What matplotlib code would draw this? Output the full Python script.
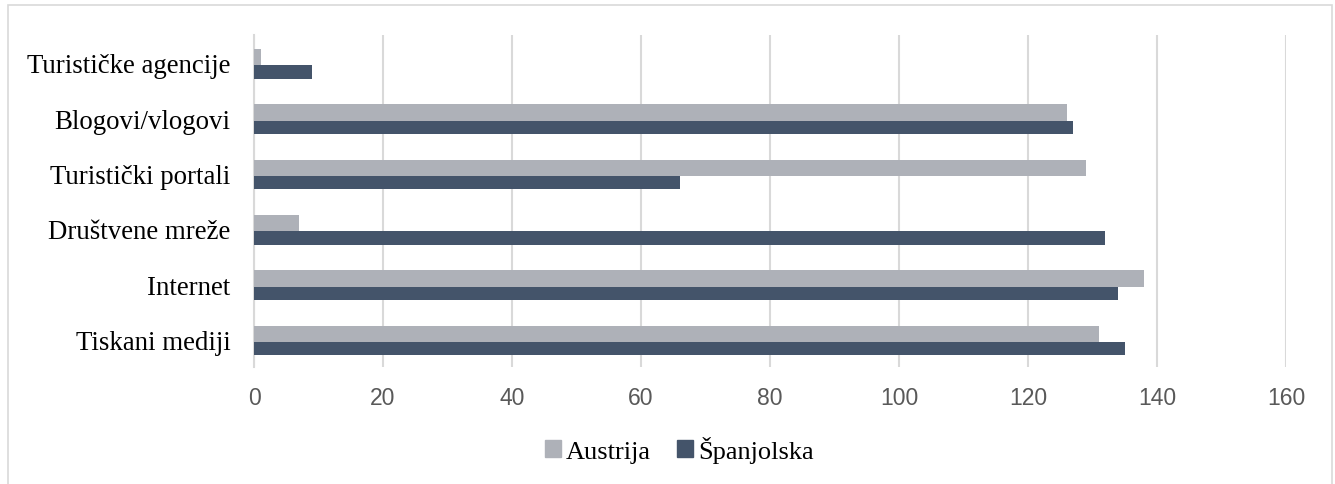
import matplotlib
matplotlib.use('Agg')
import matplotlib.pyplot as plt
from matplotlib.patches import Rectangle, Patch
import numpy as np

# categories from top to bottom as they appear in the chart
categories = ['Turističke agencije', 'Blogovi/vlogovi', 'Turistički portali',
              'Društvene mreže', 'Internet', 'Tiskani mediji']
austrija = [1, 126, 129, 7, 138, 131]
spanjolska = [9, 127, 66, 132, 134, 135]

col_austrija = '#AEB1B8'
col_spanjolska = '#44546A'

fig = plt.figure(figsize=(13.35, 4.85), dpi=100)
ax = fig.add_axes([0.1903, 0.2412, 0.773, 0.6845])

# outer chart frame
fig.patches.append(Rectangle((8 / 1335, -0.05), 1324 / 1335, 1.05 - 6 / 485,
                             transform=fig.transFigure, fill=False,
                             edgecolor='#D9D9D9', linewidth=1.2))

y = np.arange(len(categories))[::-1]
ax.barh(y + 0.10, austrija, height=0.30, color=col_austrija, zorder=3)
ax.barh(y - 0.17, spanjolska, height=0.24, color=col_spanjolska, zorder=3)

ax.set_xlim(0, 160)
ax.set_ylim(-0.5, len(categories) - 0.5)
ax.set_xticks(np.arange(0, 161, 20))
ax.set_yticks(y)
ax.set_yticklabels(categories, family='Liberation Serif', fontsize=19.4, color='black')
ax.tick_params(axis='y', length=0, pad=17)
ax.tick_params(axis='x', length=0, pad=14, labelsize=16.5, labelcolor='#595959')
for lbl in ax.get_xticklabels():
    lbl.set_family('Liberation Sans')

ax.grid(axis='x', color='#D9D9D9', linewidth=1.5, zorder=0)
for side in ['top', 'right', 'bottom']:
    ax.spines[side].set_visible(False)
ax.spines['left'].set_color('#D9D9D9')
ax.spines['left'].set_linewidth(1.5)

handles = [Patch(color=col_austrija, label='Austrija'),
           Patch(color=col_spanjolska, label='Španjolska')]
fig.legend(handles=handles, loc='center', bbox_to_anchor=(0.509, 0.072), ncol=2,
           frameon=False, prop={'family': 'Liberation Serif', 'size': 19},
           handlelength=0.6, handleheight=0.6, handletextpad=0.2, columnspacing=1.0)

fig.savefig('out.png', dpi=100)
